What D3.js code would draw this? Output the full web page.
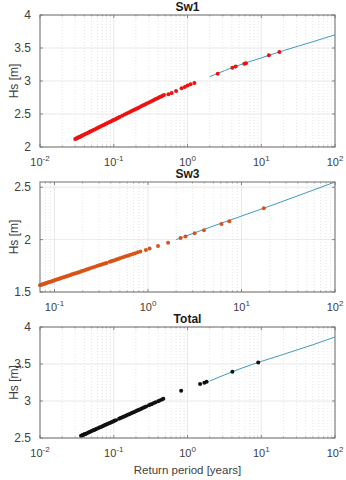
<!DOCTYPE html>
<html>
<head>
<meta charset="utf-8">
<script src="https://cdn.jsdelivr.net/npm/d3@7"></script>
<style>
  body { margin: 0; background: #fff; }
  svg { display: block; font-family: "Liberation Sans", Arial, sans-serif; }
</style>
</head>
<body>
<div id="chart"></div>
<script>
// ---- data: return period [years] vs Hs [m] ----
var titles = ["Sw1", "Sw3", "Total"];

var sw1T = [0.030, 0.031, 0.032, 0.033, 0.034, 0.035, 0.036, 0.037, 0.038, 0.040, 0.042, 0.044, 0.046, 0.048,
  0.050, 0.053, 0.056, 0.059, 0.062, 0.065, 0.069, 0.073, 0.077, 0.081, 0.086, 0.091, 0.096, 0.100, 0.105,
  0.110, 0.115, 0.120, 0.130, 0.140, 0.150, 0.160, 0.170, 0.180, 0.190, 0.200, 0.210, 0.220, 0.235, 0.250,
  0.265, 0.280, 0.300, 0.320, 0.340, 0.360, 0.380, 0.400, 0.420, 0.440, 0.460, 0.480,
  0.55, 0.61, 0.70, 0.83, 0.92, 1.0, 1.1, 1.24,
  2.57, 4.06, 4.5, 5.9, 6.2, 12.7, 17.6];
var sw1Hs = [2.120, 2.128, 2.136, 2.143, 2.150, 2.157, 2.164, 2.171, 2.177, 2.189, 2.201, 2.212, 2.223, 2.233,
  2.243, 2.257, 2.270, 2.283, 2.295, 2.306, 2.321, 2.334, 2.347, 2.359, 2.374, 2.388, 2.400, 2.410, 2.422,
  2.433, 2.444, 2.454, 2.474, 2.491, 2.508, 2.523, 2.538, 2.552, 2.565, 2.577, 2.589, 2.600, 2.616, 2.631,
  2.645, 2.658, 2.675, 2.690, 2.705, 2.719, 2.732, 2.744, 2.756, 2.767, 2.778, 2.788,
  2.80, 2.82, 2.85, 2.89, 2.91, 2.93, 2.95, 2.97,
  3.11, 3.20, 3.22, 3.26, 3.27, 3.39, 3.44];
var sw1FitT = [2, 5, 10, 20, 50, 100];
var sw1FitHs = [3.065, 3.24, 3.35, 3.46, 3.595, 3.70];

var sw3T = [0.070, 0.072, 0.074, 0.076, 0.078, 0.080, 0.082, 0.085, 0.088, 0.091, 0.094, 0.097, 0.100, 0.104,
  0.108, 0.112, 0.116, 0.120, 0.125, 0.130, 0.135, 0.140, 0.146, 0.152, 0.158, 0.165, 0.172, 0.179, 0.186,
  0.194, 0.202, 0.210, 0.220, 0.230, 0.240, 0.255, 0.270, 0.285, 0.300, 0.315, 0.330, 0.345, 0.360, 0.390,
  0.405, 0.420, 0.440, 0.460, 0.480, 0.500, 0.530, 0.560, 0.590, 0.620, 0.650, 0.690, 0.730, 0.780, 0.830,
  0.95, 1.04, 1.28, 1.64, 2.23, 2.52, 3.15, 3.97, 6.1, 7.4, 17.3];
var sw3Hs = [1.565, 1.569, 1.572, 1.576, 1.579, 1.582, 1.586, 1.590, 1.595, 1.599, 1.603, 1.608, 1.612, 1.617,
  1.621, 1.626, 1.631, 1.635, 1.641, 1.646, 1.651, 1.655, 1.661, 1.666, 1.671, 1.677, 1.682, 1.687, 1.692,
  1.698, 1.703, 1.708, 1.714, 1.720, 1.726, 1.734, 1.741, 1.748, 1.755, 1.761, 1.767, 1.773, 1.778, 1.789,
  1.794, 1.798, 1.804, 1.810, 1.816, 1.821, 1.829, 1.836, 1.843, 1.849, 1.855, 1.863, 1.870, 1.879, 1.887,
  1.90, 1.915, 1.94, 1.97, 2.016, 2.03, 2.06, 2.09, 2.15, 2.175, 2.30];
var sw3FitT = [2, 5, 10, 20, 50, 100];
var sw3FitHs = [2.0, 2.13, 2.225, 2.32, 2.45, 2.55];

var totT = [0.036, 0.037, 0.038, 0.039, 0.040, 0.041, 0.042, 0.044, 0.046, 0.048, 0.050, 0.052, 0.054, 0.056,
  0.058, 0.061, 0.064, 0.067, 0.070, 0.073, 0.076, 0.079, 0.082, 0.086, 0.090, 0.094, 0.098, 0.102, 0.107,
  0.118, 0.123, 0.129, 0.135, 0.141, 0.148, 0.155, 0.162, 0.170, 0.178, 0.186, 0.195, 0.205, 0.215, 0.225,
  0.236, 0.248, 0.260, 0.275, 0.300, 0.315, 0.330, 0.350, 0.370, 0.400, 0.420, 0.450, 0.470,
  0.82, 1.48, 1.69, 1.82, 4.06, 9.1];
var totHs = [2.529, 2.534, 2.540, 2.545, 2.549, 2.554, 2.559, 2.568, 2.577, 2.585, 2.593, 2.601, 2.608, 2.615,
  2.622, 2.632, 2.641, 2.650, 2.659, 2.667, 2.675, 2.682, 2.690, 2.699, 2.707, 2.716, 2.724, 2.732, 2.741,
  2.760, 2.769, 2.778, 2.787, 2.795, 2.804, 2.813, 2.822, 2.831, 2.840, 2.849, 2.858, 2.868, 2.877, 2.886,
  2.896, 2.905, 2.914, 2.925, 2.942, 2.952, 2.961, 2.972, 2.983, 2.998, 3.008, 3.021, 3.030,
  3.14, 3.23, 3.245, 3.26, 3.395, 3.52];
var totFitT = [2, 5, 10, 20, 50, 100];
var totFitHs = [3.27, 3.43, 3.535, 3.63, 3.76, 3.865];

var xDomains = [[0.01, 100], [0.07, 100], [0.01, 100]];
var yDomains = [[2, 4], [1.5, 2.55], [2.5, 4]];
var yTicks = [[2, 2.5, 3, 3.5, 4], [1.5, 2, 2.5], [2.5, 3, 3.5, 4]];
var xTickExps = [[-2, -1, 0, 1, 2], [-1, 0, 1, 2], [-2, -1, 0, 1, 2]];
var dotColors = ["#f01010", "#d95319", "#111111"];

var series = [
  { T: sw1T, Hs: sw1Hs, fT: sw1FitT, fHs: sw1FitHs },
  { T: sw3T, Hs: sw3Hs, fT: sw3FitT, fHs: sw3FitHs },
  { T: totT, Hs: totHs, fT: totFitT, fHs: totFitHs }
];

// panel boxes (top, bottom) in px
var boxes = [[15, 147], [182, 292], [327, 438]];
var left = 40, right = 335;

var svg = d3.select("#chart").append("svg")
  .attr("width", 346).attr("height", 480);

var gridMajor = "#e3e3e3", gridMinor = "#dadada", axisCol = "#6e6e6e", textCol = "#404040";

series.forEach(function(s, i) {
  var top = boxes[i][0], bottom = boxes[i][1];
  var x = d3.scaleLog().domain(xDomains[i]).range([left, right]);
  var y = d3.scaleLinear().domain(yDomains[i]).range([bottom, top]);
  var g = svg.append("g");

  // minor x grid (dotted), 2..9 of each decade
  var minors = [];
  for (var e = -3; e < 2; e++) {
    for (var m = 2; m <= 9; m++) {
      var v = m * Math.pow(10, e);
      if (v > xDomains[i][0] && v < xDomains[i][1]) minors.push(v);
    }
  }
  g.selectAll(".minor").data(minors).enter().append("line")
    .attr("x1", d => x(d)).attr("x2", d => x(d))
    .attr("y1", top).attr("y2", bottom)
    .attr("stroke", gridMinor).attr("stroke-width", 0.7)
    .attr("stroke-dasharray", "1,2");

  // major grid
  var majors = xTickExps[i].map(e => Math.pow(10, e));
  g.selectAll(".majx").data(majors).enter().append("line")
    .attr("x1", d => x(d)).attr("x2", d => x(d))
    .attr("y1", top).attr("y2", bottom)
    .attr("stroke", gridMajor).attr("stroke-width", 0.8);
  g.selectAll(".majy").data(yTicks[i]).enter().append("line")
    .attr("x1", left).attr("x2", right)
    .attr("y1", d => y(d)).attr("y2", d => y(d))
    .attr("stroke", gridMajor).attr("stroke-width", 0.8);

  // fitted curve
  var fit = s.fT.map((t, k) => [t, s.fHs[k]]);
  g.append("path")
    .datum(fit)
    .attr("fill", "none")
    .attr("stroke", "#3d9ac6")
    .attr("stroke-width", 1)
    .attr("d", d3.line().curve(d3.curveMonotoneX).x(d => x(d[0])).y(d => y(d[1])));

  // empirical points
  var pts = s.T.map((t, k) => [t, s.Hs[k]]).filter(d => d[0] >= xDomains[i][0]);
  g.selectAll(".dot").data(pts).enter().append("circle")
    .attr("cx", d => x(d[0])).attr("cy", d => y(d[1]))
    .attr("r", 2)
    .attr("fill", dotColors[i]);

  // box
  g.append("rect")
    .attr("x", left).attr("y", top)
    .attr("width", right - left).attr("height", bottom - top)
    .attr("fill", "none").attr("stroke", axisCol).attr("stroke-width", 1);

  // ticks inside (x major + minor, y major)
  majors.forEach(function(d) {
    [[bottom, bottom - 3], [top, top + 3]].forEach(function(p) {
      g.append("line").attr("x1", x(d)).attr("x2", x(d)).attr("y1", p[0]).attr("y2", p[1])
        .attr("stroke", axisCol).attr("stroke-width", 0.8);
    });
  });
  minors.forEach(function(d) {
    [[bottom, bottom - 1.5], [top, top + 1.5]].forEach(function(p) {
      g.append("line").attr("x1", x(d)).attr("x2", x(d)).attr("y1", p[0]).attr("y2", p[1])
        .attr("stroke", axisCol).attr("stroke-width", 0.6);
    });
  });
  yTicks[i].forEach(function(d) {
    [[left, left + 3], [right, right - 3]].forEach(function(p) {
      g.append("line").attr("x1", p[0]).attr("x2", p[1]).attr("y1", y(d)).attr("y2", y(d))
        .attr("stroke", axisCol).attr("stroke-width", 0.8);
    });
  });

  // y tick labels
  g.selectAll(".ylab").data(yTicks[i]).enter().append("text")
    .attr("x", left - 9).attr("y", d => y(d) + 4)
    .attr("text-anchor", "end")
    .attr("font-size", 12)
    .attr("fill", textCol)
    .text(d => d3.format("")(d));

  // x tick labels with superscript exponents
  xTickExps[i].forEach(function(e) {
    var t = g.append("text")
      .attr("x", x(Math.pow(10, e))).attr("y", bottom + 19)
      .attr("text-anchor", "middle")
      .attr("font-size", 11)
      .attr("fill", textCol);
    t.append("tspan").text("10");
    t.append("tspan").attr("dy", -5).attr("font-size", 8).text(e < 0 ? "-" + (-e) : String(e));
  });

  // title
  g.append("text")
    .attr("x", (left + right) / 2).attr("y", top - 4)
    .attr("text-anchor", "middle")
    .attr("font-size", 12).attr("font-weight", "bold")
    .attr("fill", "#1a1a1a")
    .text(titles[i]);

  // y label
  g.append("text")
    .attr("transform", "translate(18," + (top + bottom) / 2 + ") rotate(-90)")
    .attr("text-anchor", "middle")
    .attr("font-size", 12)
    .attr("fill", textCol)
    .text("Hs [m]");
});

svg.append("text")
  .attr("x", (left + right) / 2).attr("y", 474)
  .attr("text-anchor", "middle")
  .attr("font-size", 11.5)
  .attr("fill", textCol)
  .text("Return period [years]");
</script>
</body>
</html>
